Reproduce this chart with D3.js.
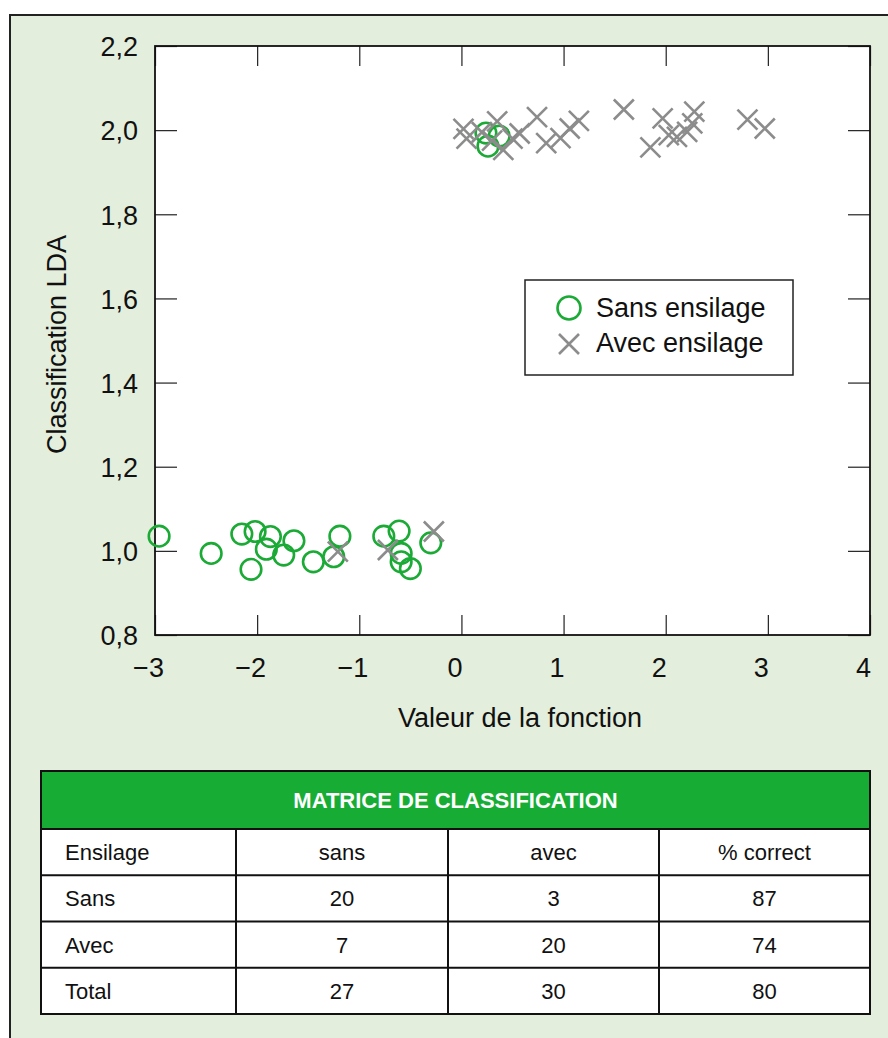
<!DOCTYPE html>
<html>
<head>
<meta charset="utf-8">
<script src="https://cdn.jsdelivr.net/npm/d3@7"></script>
<style>
  body { margin: 0; background: #fff; }
  svg { display: block; font-family: "Liberation Sans", Arial, sans-serif; }
</style>
</head>
<body>
<div id="container"></div>
<script>
/* DATA */
// Sans ensilage (circles): [valeur de la fonction, classification]
const sansPoints = [
  [-2.96, 1.035], [-2.45, 0.994], [-2.15, 1.040], [-2.02, 1.046], [-1.87, 1.034],
  [-1.91, 1.004], [-2.06, 0.956], [-1.74, 0.990], [-1.64, 1.024], [-1.45, 0.974],
  [-1.25, 0.986], [-1.19, 1.035], [-0.76, 1.035], [-0.61, 1.047], [-0.59, 0.994],
  [-0.59, 0.974], [-0.50, 0.958], [-0.30, 1.019],
  [0.24, 1.993], [0.37, 1.986], [0.26, 1.962]
];
// Avec ensilage (crosses)
const avecPoints = [
  [-1.21, 0.998], [-0.72, 1.002], [-0.27, 1.046],
  [0.02, 2.003], [0.05, 1.980], [0.20, 1.995], [0.35, 2.021], [0.30, 1.975],
  [0.41, 1.953], [0.50, 1.980], [0.57, 1.992], [0.74, 2.031], [0.83, 1.969],
  [0.97, 1.981], [1.06, 2.004], [1.15, 2.022], [1.59, 2.049], [1.85, 1.959],
  [1.97, 2.028], [2.03, 1.988], [2.11, 1.984], [2.21, 1.996], [2.26, 2.016],
  [2.28, 2.044], [2.80, 2.025], [2.97, 2.004]
];
const xTicks = [-3, -2, -1, 0, 1, 2, 3, 4];
const yTicks = [0.8, 1.0, 1.2, 1.4, 1.6, 1.8, 2.0, 2.2];
const legendLabels = ["Sans ensilage", "Avec ensilage"];

const tableTitle = "MATRICE DE CLASSIFICATION";
const tableHead = ["Ensilage", "sans", "avec", "% correct"];
const tableRows = [
  ["Sans", "20", "3", "87"],
  ["Avec", "7", "20", "74"],
  ["Total", "27", "30", "80"]
];

/* CONSTANTS */
const width = 888, height = 1038;
const plot = {left: 155, right: 870, top: 46, bottom: 635};
const green = "#1aaa35", grey = "#8c8c8c";

const svg = d3.select("#container").append("svg")
    .attr("width", width)
    .attr("height", height);

// background panel
svg.append("rect")
    .attr("x", 10).attr("y", 15)
    .attr("width", 920).attr("height", 1100)
    .attr("fill", "#e4eedc")
    .attr("stroke", "#222").attr("stroke-width", 2);

/* SCALES */
const xScale = d3.scaleLinear().domain([-3, 4]).range([plot.left, plot.right]);
const yScale = d3.scaleLinear().domain([0.8, 2.2]).range([plot.bottom, plot.top]);

svg.append("rect")
    .attr("x", plot.left).attr("y", plot.top)
    .attr("width", plot.right - plot.left).attr("height", plot.bottom - plot.top)
    .attr("fill", "#fff");

const fmtY = d => d3.format(".1f")(d).replace(".", ",");
const fmtX = d => d3.format("d")(d);

// axes (ticks pointing inward)
const gx = svg.append("g")
    .attr("transform", `translate(0,${plot.bottom})`)
    .call(d3.axisBottom(xScale).tickValues(xTicks).tickFormat(fmtX).tickSize(-20).tickSizeOuter(0));
gx.selectAll("text").attr("y", 42).attr("dy", 0).attr("x", -7);

svg.append("g")
    .attr("transform", `translate(0,${plot.top})`)
    .call(d3.axisTop(xScale).tickValues(xTicks).tickFormat("").tickSize(-20).tickSizeOuter(0));

const gy = svg.append("g")
    .attr("transform", `translate(${plot.left},0)`)
    .call(d3.axisLeft(yScale).tickValues(yTicks).tickFormat(fmtY).tickSize(-22).tickSizeOuter(0));
gy.selectAll("text").attr("x", -17).attr("dy", "0.36em");

svg.append("g")
    .attr("transform", `translate(${plot.right},0)`)
    .call(d3.axisRight(yScale).tickValues(yTicks).tickFormat("").tickSize(-22).tickSizeOuter(0));

svg.selectAll(".domain").remove();
svg.selectAll(".tick line").attr("stroke", "#222").attr("stroke-width", 1.2);
svg.selectAll(".tick text").style("font-size", "27px").attr("fill", "#111");

// frame
svg.append("rect")
    .attr("x", plot.left).attr("y", plot.top)
    .attr("width", plot.right - plot.left).attr("height", plot.bottom - plot.top)
    .attr("fill", "none").attr("stroke", "#111").attr("stroke-width", 1.8);

// axis titles
svg.append("text")
    .attr("x", 520).attr("y", 727)
    .attr("text-anchor", "middle")
    .style("font-size", "27px").attr("fill", "#111")
    .text("Valeur de la fonction");

svg.append("text")
    .attr("transform", `translate(66,${(plot.top + plot.bottom) / 2 + 4})rotate(-90)`)
    .attr("text-anchor", "middle")
    .style("font-size", "27px").attr("fill", "#111")
    .text("Classification LDA");

/* MARKS */
const crossPath = (s) => `M${-s},${-s}L${s},${s}M${-s},${s}L${s},${-s}`;

svg.append("g").selectAll("circle")
    .data(sansPoints)
    .join("circle")
    .attr("cx", d => xScale(d[0]))
    .attr("cy", d => yScale(d[1]))
    .attr("r", 10.3)
    .attr("fill", "none")
    .attr("stroke", green)
    .attr("stroke-width", 2.6);

svg.append("g").selectAll("path")
    .data(avecPoints)
    .join("path")
    .attr("transform", d => `translate(${xScale(d[0])},${yScale(d[1])})`)
    .attr("d", crossPath(10))
    .attr("fill", "none")
    .attr("stroke", grey)
    .attr("stroke-width", 2.6);

/* LEGEND */
const legend = svg.append("g");
legend.append("rect")
    .attr("x", 525).attr("y", 280).attr("width", 268).attr("height", 95)
    .attr("fill", "#fff").attr("stroke", "#222").attr("stroke-width", 1.5);
legend.append("circle")
    .attr("cx", 569).attr("cy", 308).attr("r", 11.5)
    .attr("fill", "none").attr("stroke", green).attr("stroke-width", 2.6);
legend.append("path")
    .attr("transform", "translate(569,344)")
    .attr("d", crossPath(10))
    .attr("stroke", grey).attr("stroke-width", 2.6);
legendLabels.forEach((label, i) =>
  legend.append("text")
      .attr("x", 596).attr("y", 317 + i * 35)
      .style("font-size", "27px").attr("fill", "#111")
      .text(label)
);

/* TABLE */
const tbl = {left: 41, right: 870, top: 771, headH: 58, rowH: 46.25};
const colEdges = [41, 236, 448, 659, 870];
const allRows = [tableHead].concat(tableRows);
const tg = svg.append("g");

tg.append("rect")
    .attr("x", tbl.left).attr("y", tbl.top)
    .attr("width", tbl.right - tbl.left).attr("height", tbl.headH)
    .attr("fill", "#17ad35");
tg.append("text")
    .attr("x", (tbl.left + tbl.right) / 2).attr("y", tbl.top + tbl.headH / 2 + 8)
    .attr("text-anchor", "middle")
    .style("font-size", "22px").style("font-weight", "bold")
    .attr("fill", "#fff")
    .text(tableTitle);

const bodyTop = tbl.top + tbl.headH;
const bodyBottom = bodyTop + allRows.length * tbl.rowH;
tg.append("rect")
    .attr("x", tbl.left).attr("y", bodyTop)
    .attr("width", tbl.right - tbl.left).attr("height", bodyBottom - bodyTop)
    .attr("fill", "#fff");

allRows.forEach((row, r) => {
  row.forEach((cell, c) => {
    tg.append("text")
        .attr("x", c === 0 ? colEdges[0] + 24 : (colEdges[c] + colEdges[c + 1]) / 2)
        .attr("y", bodyTop + r * tbl.rowH + tbl.rowH / 2 + 8)
        .attr("text-anchor", c === 0 ? "start" : "middle")
        .style("font-size", "22px").attr("fill", "#111")
        .text(cell);
  });
});

// grid lines
d3.range(1, allRows.length).forEach(r =>
  tg.append("line")
      .attr("x1", tbl.left).attr("x2", tbl.right)
      .attr("y1", bodyTop + r * tbl.rowH).attr("y2", bodyTop + r * tbl.rowH)
      .attr("stroke", "#111").attr("stroke-width", 2)
);
colEdges.slice(1, -1).forEach(x =>
  tg.append("line")
      .attr("x1", x).attr("x2", x)
      .attr("y1", bodyTop).attr("y2", bodyBottom)
      .attr("stroke", "#111").attr("stroke-width", 2)
);
tg.append("line")
    .attr("x1", tbl.left).attr("x2", tbl.right)
    .attr("y1", bodyTop).attr("y2", bodyTop)
    .attr("stroke", "#111").attr("stroke-width", 2);
tg.append("rect")
    .attr("x", tbl.left).attr("y", tbl.top)
    .attr("width", tbl.right - tbl.left).attr("height", bodyBottom - tbl.top)
    .attr("fill", "none").attr("stroke", "#111").attr("stroke-width", 2);
</script>
</body>
</html>
